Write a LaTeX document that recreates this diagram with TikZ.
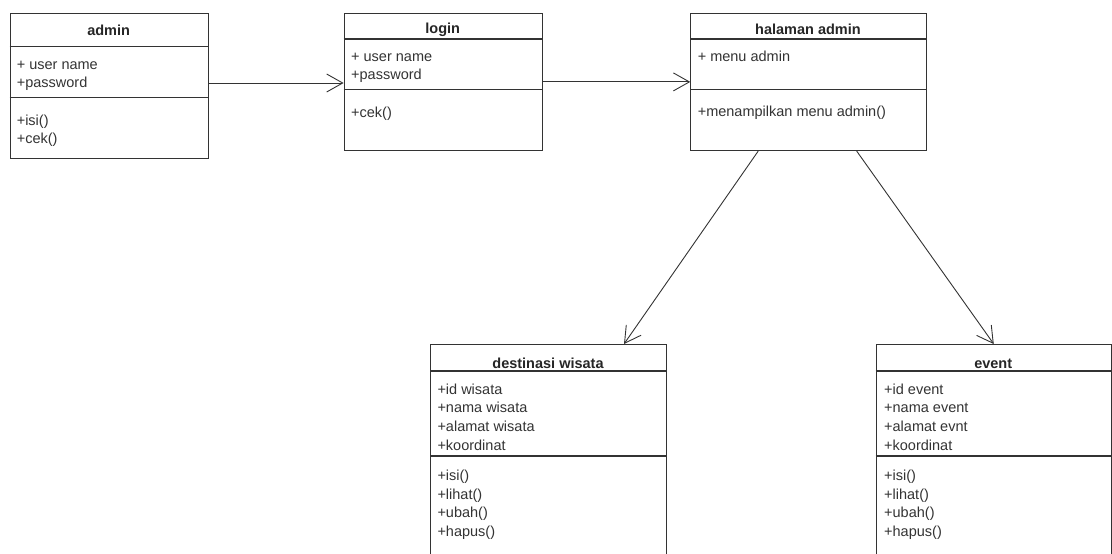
\documentclass[tikz,border=0pt]{standalone}
\usepackage{fontspec}
\setmainfont{Liberation Sans}
\usetikzlibrary{arrows.meta}
\tikzset{
  classbox/.style={draw=black!80, line width=1.1pt, anchor=north west, inner sep=0pt},
  sepline/.style={draw=black!80, line width=1.1pt},
  classname/.style={anchor=base, inner sep=0pt, text=black!85, font=\fontsize{14.5}{18.5}\selectfont\bfseries},
  member/.style={anchor=base west, inner sep=0pt, text=black!80, font=\fontsize{14.5}{18.5}\selectfont},
  assoc/.style={draw=black!80, line width=0.9pt, -{Straight Barb[length=16pt, width=18pt]}}
}

\begin{document}
\begin{tikzpicture}[x=1pt, y=-1pt]
    \useasboundingbox (0,0) rectangle (1112,554);
    \clip (0,0) rectangle (1112,554);

    % admin
    \node[classbox, minimum width=198pt, minimum height=145.6pt] (admin) at (9.6,12.7) {};
    \draw[sepline] (admin.west |- 0,46.7) -- (admin.east |- 0,46.7);
    \draw[sepline] (admin.west |- 0,97.7) -- (admin.east |- 0,97.7);
    \node[classname] (admin-t) at (108.6,35) {admin};
    \foreach \t [count=\i] in {+ user name,+password}
        \node[member] (admin-a\i) at (16.6,{51.2+18.3*\i}) {\t};
    \foreach \t [count=\i] in {+isi(),+cek()}
        \node[member] (admin-m\i) at (16.6,{106.7+18.3*\i}) {\t};

    % login
    \node[classbox, minimum width=198.1pt, minimum height=137.3pt] (login) at (343.6,12.7) {};
    \draw[sepline] (login.west |- 0,39) -- (login.east |- 0,39);
    \draw[sepline] (login.west |- 0,89.3) -- (login.east |- 0,89.3);
    \node[classname] (login-t) at (442.7,34) {login};
    \foreach \t [count=\i] in {+ user name,+password}
        \node[member] (login-a\i) at (351,{42.9+18.3*\i}) {\t};
    \node[member] (login-m1) at (351,117) {+cek()};

    % halaman admin
    \node[classbox, minimum width=235.3pt, minimum height=137.3pt] (halaman) at (690.3,12.7) {};
    \draw[sepline] (halaman.west |- 0,39) -- (halaman.east |- 0,39);
    \draw[sepline] (halaman.west |- 0,89.3) -- (halaman.east |- 0,89.3);
    \node[classname] (halaman-t) at (807.95,34.5) {halaman admin};
    \node[member] (halaman-a1) at (697.6,61.2) {+ menu admin};
    \node[member] (halaman-m1) at (697.6,116) {+menampilkan menu admin()};

    % destinasi wisata
    \node[classbox, minimum width=236pt, minimum height=240pt] (wisata) at (430,344) {};
    \draw[sepline] (wisata.west |- 0,371) -- (wisata.east |- 0,371);
    \draw[sepline] (wisata.west |- 0,456) -- (wisata.east |- 0,456);
    \node[classname] (wisata-t) at (548,368) {destinasi wisata};
    \foreach \t [count=\i] in {+id wisata,+nama wisata,+alamat wisata,+koordinat}
        \node[member] (wisata-a\i) at (437.3,{375.3+18.7*\i}) {\t};
    \foreach \t [count=\i] in {+isi(),+lihat(),+ubah(),+hapus()}
        \node[member] (wisata-m\i) at (437.3,{461.7+18.7*\i}) {\t};

    % event
    \node[classbox, minimum width=235pt, minimum height=240pt] (event) at (875.7,344) {};
    \draw[sepline] (event.west |- 0,371) -- (event.east |- 0,371);
    \draw[sepline] (event.west |- 0,456) -- (event.east |- 0,456);
    \node[classname] (event-t) at (993.2,368) {event};
    \foreach \t [count=\i] in {+id event,+nama event,+alamat evnt,+koordinat}
        \node[member] (event-a\i) at (884,{375.3+18.7*\i}) {\t};
    \foreach \t [count=\i] in {+isi(),+lihat(),+ubah(),+hapus()}
        \node[member] (event-m\i) at (884,{461.7+18.7*\i}) {\t};

    % associations
    \draw[assoc] (admin.east |- 0,83) -- (login.west |- 0,83);
    \draw[assoc] (login.east) -- (halaman.west);
    \draw[assoc] ([xshift=67.9pt]halaman.south west) -- ([xshift=194pt]wisata.north west);
    \draw[assoc] ([xshift=166.4pt]halaman.south west) -- (event.north);
\end{tikzpicture}
\end{document}
